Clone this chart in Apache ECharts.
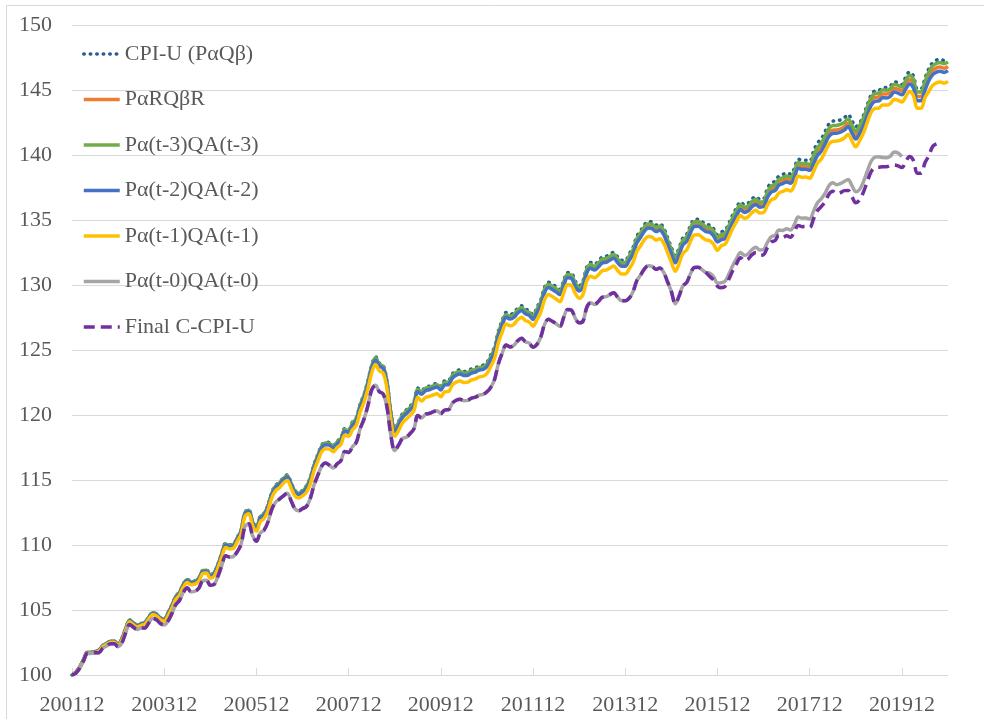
<!DOCTYPE html>
<html>
<head>
<meta charset="utf-8">
<script src="https://cdn.jsdelivr.net/npm/echarts@6/dist/echarts.min.js"></script>
<style>
  html, body { margin: 0; padding: 0; background: #fff; }
  #chart { width: 984px; height: 719px; }
</style>
</head>
<body>
<div id="chart"></div>
<script>
// months 200112 .. 202012
var months = [];
for (var y = 2001; y <= 2020; y++) {
  for (var m = 1; m <= 12; m++) {
    if (y === 2001 && m < 12) continue;
    months.push(String(y) + (m < 10 ? '0' + m : m));
  }
}

var yTicks = [100, 105, 110, 115, 120, 125, 130, 135, 140, 145, 150];

// CPI-U (PαQβ), 200112 = 100
var cpiU = [100.00,
  100.23,100.62,101.19,101.75,101.75,101.81,101.92,102.26,102.43,102.60,102.60,102.38,
  102.83,103.62,104.24,104.02,103.85,103.96,104.07,104.47,104.81,104.70,104.41,104.30,
  104.81,105.38,106.06,106.40,107.02,107.36,107.19,107.24,107.47,108.04,108.09,107.70,
  107.92,108.55,109.39,110.13,110.02,110.07,110.58,111.15,112.51,112.73,111.83,111.38,
  112.22,112.45,113.07,114.04,114.60,114.83,115.17,115.39,114.83,114.20,114.04,114.20,
  114.55,115.17,116.21,116.97,117.68,117.91,117.88,117.67,117.99,118.24,118.95,118.87,
  119.46,119.80,120.84,121.58,122.60,123.83,124.48,123.99,123.82,122.57,120.22,118.97,
  119.49,120.09,120.38,120.68,121.03,122.07,121.87,122.15,122.22,122.34,122.43,122.21,
  122.63,122.66,123.16,123.38,123.47,123.35,123.38,123.55,123.62,123.78,123.83,124.04,
  124.63,125.25,126.47,127.28,127.88,127.74,127.86,128.21,128.40,128.14,128.03,127.71,
  128.28,128.84,129.82,130.21,130.06,129.87,129.66,130.38,130.96,130.91,130.29,129.94,
  130.32,131.39,131.73,131.60,131.83,132.15,132.20,132.36,132.51,132.17,131.90,131.89,
  132.38,132.87,133.73,134.17,134.64,134.89,134.83,134.61,134.71,134.37,133.65,132.89,
  132.26,132.84,133.63,133.90,134.58,135.05,135.06,134.87,134.66,134.60,134.32,133.86,
  134.08,134.19,134.77,135.41,135.95,136.40,136.18,136.30,136.63,136.80,136.59,136.63,
  137.43,137.86,137.97,138.38,138.50,138.63,138.53,138.95,139.68,139.59,139.60,139.52,
  140.28,140.91,141.23,141.79,142.38,142.61,142.62,142.70,142.86,143.12,142.64,142.18,
  142.45,143.05,143.86,144.62,144.93,144.96,145.20,145.19,145.31,145.64,145.56,145.43,
  145.99,146.39,146.08,145.10,145.10,145.90,146.63,147.10,147.30,147.36,147.27,147.41];

// PαRQβR
var paRqbR = [100.00,
  100.21,100.60,101.17,101.73,101.73,101.79,101.90,102.24,102.41,102.58,102.58,102.36,
  102.79,103.58,104.20,103.98,103.81,103.92,104.03,104.43,104.77,104.66,104.37,104.26,
  104.75,105.32,106.00,106.34,106.96,107.30,107.13,107.18,107.41,107.98,108.03,107.64,
  107.84,108.47,109.31,110.05,109.94,109.99,110.50,111.07,112.43,112.65,111.75,111.30,
  112.12,112.35,112.97,113.94,114.50,114.73,115.07,115.29,114.73,114.10,113.94,114.10,
  114.43,115.05,116.09,116.85,117.56,117.79,117.76,117.55,117.87,118.12,118.83,118.75,
  119.32,119.66,120.70,121.44,122.46,123.69,124.34,123.85,123.68,122.43,120.08,118.83,
  119.32,119.92,120.21,120.51,120.86,121.90,121.70,121.98,122.05,122.17,122.26,122.04,
  122.43,122.46,122.96,123.18,123.27,123.15,123.18,123.35,123.42,123.58,123.63,123.84,
  124.40,125.02,126.24,127.05,127.65,127.51,127.63,127.98,128.17,127.91,127.80,127.48,
  128.02,128.58,129.56,129.95,129.80,129.61,129.40,130.12,130.70,130.65,130.03,129.68,
  130.03,131.10,131.44,131.31,131.54,131.86,131.91,132.07,132.22,131.88,131.61,131.60,
  132.06,132.55,133.41,133.85,134.32,134.57,134.51,134.29,134.39,134.05,133.33,132.57,
  131.91,132.49,133.28,133.55,134.23,134.70,134.71,134.52,134.31,134.25,133.97,133.51,
  133.68,133.79,134.37,135.01,135.55,136.00,135.78,135.90,136.23,136.40,136.19,136.23,
  136.93,137.36,137.47,137.88,138.00,138.13,138.03,138.45,139.18,139.09,139.10,139.02,
  139.58,140.21,140.53,141.09,141.68,141.91,141.92,142.00,142.16,142.42,141.94,141.48,
  141.95,142.55,143.36,144.12,144.43,144.46,144.70,144.69,144.81,145.14,145.06,144.93,
  145.39,145.79,145.48,144.50,144.50,145.30,146.03,146.50,146.70,146.76,146.67,146.81];

// Pα(t-3)QA(t-3)
var lag3 = [100.00,
  100.23,100.62,101.19,101.75,101.75,101.81,101.92,102.26,102.43,102.60,102.60,102.38,
  102.81,103.60,104.22,104.00,103.83,103.94,104.05,104.45,104.79,104.68,104.39,104.28,
  104.78,105.35,106.03,106.37,106.99,107.33,107.16,107.21,107.44,108.01,108.06,107.67,
  107.87,108.50,109.34,110.08,109.97,110.02,110.53,111.10,112.46,112.68,111.78,111.33,
  112.16,112.39,113.01,113.98,114.54,114.77,115.11,115.33,114.77,114.14,113.98,114.14,
  114.48,115.10,116.14,116.90,117.61,117.84,117.81,117.60,117.92,118.17,118.88,118.80,
  119.38,119.72,120.76,121.50,122.52,123.75,124.40,123.91,123.74,122.49,120.14,118.89,
  119.39,119.99,120.28,120.58,120.93,121.97,121.77,122.05,122.12,122.24,122.33,122.11,
  122.51,122.54,123.04,123.26,123.35,123.23,123.26,123.43,123.50,123.66,123.71,123.92,
  124.49,125.11,126.33,127.14,127.74,127.60,127.72,128.07,128.26,128.00,127.89,127.57,
  128.13,128.69,129.67,130.06,129.91,129.72,129.51,130.23,130.81,130.76,130.14,129.79,
  130.16,131.23,131.57,131.44,131.67,131.99,132.04,132.20,132.35,132.01,131.74,131.73,
  132.21,132.70,133.56,134.00,134.47,134.72,134.66,134.44,134.54,134.20,133.48,132.72,
  132.08,132.66,133.45,133.72,134.40,134.87,134.88,134.69,134.48,134.42,134.14,133.68,
  133.88,133.99,134.57,135.21,135.75,136.20,135.98,136.10,136.43,136.60,136.39,136.43,
  137.18,137.61,137.72,138.13,138.25,138.38,138.28,138.70,139.43,139.34,139.35,139.27,
  139.93,140.56,140.88,141.44,142.03,142.26,142.27,142.35,142.51,142.77,142.29,141.83,
  142.25,142.85,143.66,144.42,144.73,144.76,145.00,144.99,145.11,145.44,145.36,145.23,
  145.74,146.14,145.83,144.85,144.85,145.65,146.38,146.85,147.05,147.11,147.02,147.16];

// Pα(t-2)QA(t-2)
var lag2 = [100.00,
  100.20,100.59,101.16,101.72,101.72,101.78,101.89,102.23,102.40,102.57,102.57,102.35,
  102.77,103.56,104.18,103.96,103.79,103.90,104.01,104.41,104.75,104.64,104.35,104.24,
  104.71,105.28,105.96,106.30,106.92,107.26,107.09,107.14,107.37,107.94,107.99,107.60,
  107.79,108.42,109.26,110.00,109.89,109.94,110.45,111.02,112.38,112.60,111.70,111.25,
  112.06,112.29,112.91,113.88,114.44,114.67,115.01,115.23,114.67,114.04,113.88,114.04,
  114.35,114.97,116.01,116.77,117.48,117.71,117.68,117.47,117.79,118.04,118.75,118.67,
  119.22,119.56,120.60,121.34,122.36,123.59,124.24,123.75,123.58,122.33,119.98,118.73,
  119.21,119.81,120.10,120.40,120.75,121.79,121.59,121.87,121.94,122.06,122.15,121.93,
  122.31,122.34,122.84,123.06,123.15,123.03,123.06,123.23,123.30,123.46,123.51,123.72,
  124.27,124.89,126.11,126.92,127.52,127.38,127.50,127.85,128.04,127.78,127.67,127.35,
  127.88,128.44,129.42,129.81,129.66,129.47,129.26,129.98,130.56,130.51,129.89,129.54,
  129.87,130.94,131.28,131.15,131.38,131.70,131.75,131.91,132.06,131.72,131.45,131.44,
  131.88,132.37,133.23,133.67,134.14,134.39,134.33,134.11,134.21,133.87,133.15,132.39,
  131.71,132.29,133.08,133.35,134.03,134.50,134.51,134.32,134.11,134.05,133.77,133.31,
  133.48,133.59,134.17,134.81,135.35,135.80,135.58,135.70,136.03,136.20,135.99,136.03,
  136.73,137.16,137.27,137.68,137.80,137.93,137.83,138.25,138.98,138.89,138.90,138.82,
  139.33,139.96,140.28,140.84,141.43,141.66,141.67,141.75,141.91,142.17,141.69,141.23,
  141.65,142.25,143.06,143.82,144.13,144.16,144.40,144.39,144.51,144.84,144.76,144.63,
  145.07,145.47,145.16,144.18,144.18,144.98,145.71,146.18,146.38,146.44,146.35,146.49];

// Pα(t-1)QA(t-1)
var lag1 = [100.00,
  100.15,100.54,101.11,101.67,101.67,101.73,101.84,102.18,102.35,102.52,102.52,102.30,
  102.68,103.47,104.09,103.87,103.70,103.81,103.92,104.32,104.66,104.55,104.26,104.15,
  104.56,105.13,105.81,106.15,106.77,107.11,106.94,106.99,107.22,107.79,107.84,107.45,
  107.60,108.23,109.07,109.81,109.70,109.75,110.26,110.83,112.19,112.41,111.51,111.06,
  111.80,112.03,112.65,113.62,114.18,114.41,114.75,114.97,114.41,113.78,113.62,113.78,
  114.05,114.67,115.71,116.47,117.18,117.41,117.38,117.17,117.49,117.74,118.45,118.37,
  118.86,119.20,120.24,120.98,122.00,123.23,123.88,123.39,123.22,121.97,119.62,118.37,
  118.79,119.39,119.68,119.98,120.33,121.37,121.07,121.35,121.42,121.54,121.63,121.41,
  121.78,121.81,122.31,122.53,122.62,122.50,122.53,122.70,122.77,122.93,122.98,123.19,
  123.75,124.37,125.59,126.40,127.00,126.86,126.98,127.33,127.52,127.26,127.15,126.83,
  127.33,127.89,128.87,129.26,129.11,128.92,128.71,129.43,130.01,129.96,129.34,128.99,
  129.27,130.34,130.68,130.55,130.78,131.10,131.15,131.31,131.46,131.12,130.85,130.84,
  131.23,131.72,132.58,133.02,133.49,133.74,133.68,133.46,133.56,133.22,132.50,131.74,
  131.06,131.64,132.43,132.70,133.38,133.85,133.86,133.67,133.46,133.40,133.12,132.66,
  133.03,133.14,133.72,134.36,134.90,135.35,135.13,135.25,135.58,135.75,135.54,135.58,
  136.13,136.56,136.67,137.08,137.20,137.33,137.23,137.65,138.38,138.29,138.30,138.22,
  138.73,139.36,139.68,140.24,140.83,141.06,141.07,141.15,141.31,141.57,141.09,140.63,
  141.10,141.70,142.51,143.27,143.58,143.61,143.85,143.84,143.96,144.29,144.21,144.08,
  144.49,144.89,144.58,143.60,143.60,144.40,144.88,145.35,145.55,145.61,145.52,145.66];

// Pα(t-0)QA(t-0), ends 201912
var lag0 = [100.00,
  100.13,100.52,101.09,101.65,101.65,101.71,101.72,102.06,102.23,102.40,102.40,102.18,
  102.48,103.27,103.89,103.67,103.50,103.61,103.62,104.02,104.36,104.25,103.96,103.85,
  104.16,104.73,105.41,105.75,106.37,106.71,106.39,106.44,106.67,107.24,107.29,106.90,
  106.97,107.60,108.44,109.18,109.07,109.12,109.48,110.05,111.41,111.63,110.73,110.28,
  110.92,111.15,111.77,112.74,113.30,113.53,113.77,113.99,113.43,112.80,112.64,112.80,
  112.95,113.57,114.61,115.37,116.08,116.31,116.13,115.92,116.24,116.49,117.20,117.12,
  117.56,117.90,118.94,119.68,120.70,121.93,122.28,121.79,121.62,120.57,118.42,117.27,
  117.69,118.19,118.28,118.58,118.93,119.97,119.77,120.05,120.12,120.24,120.33,120.11,
  120.38,120.41,120.91,121.13,121.22,121.10,121.13,121.30,121.37,121.53,121.58,121.79,
  122.13,122.75,123.97,124.78,125.38,125.24,125.36,125.71,125.90,125.64,125.53,125.21,
  125.43,125.99,126.97,127.36,127.21,127.02,126.81,127.53,128.11,128.06,127.44,127.09,
  127.22,128.29,128.63,128.50,128.73,129.05,129.10,129.26,129.41,129.07,128.80,128.79,
  128.98,129.47,130.33,130.77,131.24,131.49,131.43,131.21,131.31,130.97,130.25,129.49,
  128.56,129.14,129.93,130.20,130.88,131.35,131.36,131.17,130.96,130.90,130.62,130.16,
  130.18,130.29,130.87,131.51,132.05,132.50,132.28,132.40,132.73,132.90,132.69,132.73,
  133.28,133.71,133.82,134.23,134.20,134.33,134.23,134.65,135.23,135.14,135.15,135.07,
  135.68,136.31,136.63,137.04,137.63,137.86,137.72,137.80,137.96,138.12,137.64,137.18,
  137.35,137.95,138.76,139.52,139.83,139.86,139.80,139.79,139.91,140.24,140.16,139.88];

// Final C-CPI-U, ends 202009
var finalC = [100.00,
  100.13,100.52,101.09,101.65,101.65,101.71,101.72,102.06,102.23,102.40,102.40,102.18,
  102.48,103.27,103.89,103.67,103.50,103.61,103.62,104.02,104.36,104.25,103.96,103.85,
  104.16,104.73,105.41,105.75,106.37,106.71,106.39,106.44,106.67,107.24,107.29,106.90,
  106.97,107.60,108.44,109.18,109.07,109.12,109.48,110.05,111.41,111.63,110.73,110.28,
  110.92,111.15,111.77,112.74,113.30,113.53,113.77,113.99,113.43,112.80,112.64,112.80,
  112.95,113.57,114.61,115.37,116.08,116.31,116.13,115.92,116.24,116.49,117.20,117.12,
  117.56,117.90,118.94,119.68,120.70,121.93,122.28,121.79,121.62,120.57,118.42,117.27,
  117.69,118.19,118.28,118.58,118.93,119.97,119.77,120.05,120.12,120.24,120.33,120.11,
  120.38,120.41,120.91,121.13,121.22,121.10,121.13,121.30,121.37,121.53,121.58,121.79,
  122.13,122.75,123.97,124.78,125.38,125.24,125.36,125.71,125.90,125.64,125.53,125.21,
  125.43,125.99,126.97,127.36,127.21,127.02,126.81,127.53,128.11,128.06,127.44,127.09,
  127.22,128.29,128.63,128.50,128.73,129.05,129.10,129.26,129.41,129.07,128.80,128.79,
  128.98,129.47,130.33,130.77,131.24,131.49,131.43,131.21,131.31,130.97,130.25,129.49,
  128.56,129.14,129.93,130.20,130.88,131.35,131.36,131.17,130.96,130.65,130.37,129.91,
  129.78,129.89,130.47,131.11,131.65,132.10,131.88,132.00,132.33,132.50,132.29,132.33,
  132.88,133.31,133.42,133.83,133.65,133.78,133.68,134.10,134.58,134.49,134.50,134.42,
  135.08,135.71,136.03,136.39,136.98,137.21,137.02,137.10,137.26,137.27,136.79,136.33,
  136.55,137.15,137.96,138.72,139.03,139.06,139.10,139.09,139.21,139.24,139.16,139.03,
  139.49,139.89,139.58,138.60,138.60,139.40,139.93,140.65,140.85];

var FONT = "'Liberation Serif', 'Times New Roman', serif";
var GRID = '#d9d9d9';
var TXT = '#595959';

function line(name, data, color, type, cap) {
  return {
    name: name,
    type: 'line',
    data: data,
    symbol: 'none',
    smooth: 0.35,
    itemStyle: { color: color },
    lineStyle: { color: color, width: 3.5, type: type || 'solid', cap: cap || 'butt' }
  };
}

var chart = echarts.init(document.getElementById('chart'), null, { renderer: 'canvas' });

chart.setOption({
  animation: false,
  backgroundColor: '#fff',
  textStyle: { fontFamily: FONT },
  graphic: [{
    type: 'rect',
    shape: { x: 6.5, y: 5.5, width: 1200, height: 1200 },
    style: { fill: 'none', stroke: GRID, lineWidth: 1 },
    silent: true
  }],
  grid: { left: 72, right: 36, top: 25, bottom: 44, containLabel: false, outerBoundsMode: 'none' },
  legend: {
    orient: 'vertical',
    left: 82,
    top: 43,
    padding: 0,
    itemWidth: 36,
    itemHeight: 14,
    itemGap: 23.5,
    itemStyle: { opacity: 0 },
    lineStyle: { width: 3.5 },
    textStyle: { fontFamily: FONT, fontSize: 22, color: TXT, lineHeight: 22 },
    data: ['CPI-U (PαQβ)', 'PαRQβR', 'Pα(t-3)QA(t-3)', 'Pα(t-2)QA(t-2)',
           'Pα(t-1)QA(t-1)', 'Pα(t-0)QA(t-0)', 'Final C-CPI-U']
  },
  xAxis: {
    type: 'category',
    data: months,
    boundaryGap: false,
    axisLine: { lineStyle: { color: GRID, width: 1 } },
    axisTick: { show: true, inside: true, length: 7, interval: 23, lineStyle: { color: GRID } },
    axisLabel: { interval: 23, margin: 19, fontFamily: FONT, fontSize: 22, color: TXT },
    splitLine: { show: false }
  },
  yAxis: {
    type: 'value',
    min: yTicks[0],
    max: yTicks[yTicks.length - 1],
    interval: 5,
    axisLine: { show: false },
    axisTick: { show: false },
    axisLabel: { margin: 20, fontFamily: FONT, fontSize: 22, color: TXT },
    splitLine: { lineStyle: { color: GRID, width: 1 } }
  },
  series: [
    line('CPI-U (PαQβ)', cpiU, '#255E91', [0.5, 6], 'round'),
    line('PαRQβR', paRqbR, '#ED7D31'),
    line('Pα(t-3)QA(t-3)', lag3, '#70AD47'),
    line('Pα(t-2)QA(t-2)', lag2, '#4472C4'),
    line('Pα(t-1)QA(t-1)', lag1, '#FFC000'),
    line('Pα(t-0)QA(t-0)', lag0, '#A5A5A5'),
    line('Final C-CPI-U', finalC, '#7030A0', [11, 6])
  ]
});
</script>
</body>
</html>
